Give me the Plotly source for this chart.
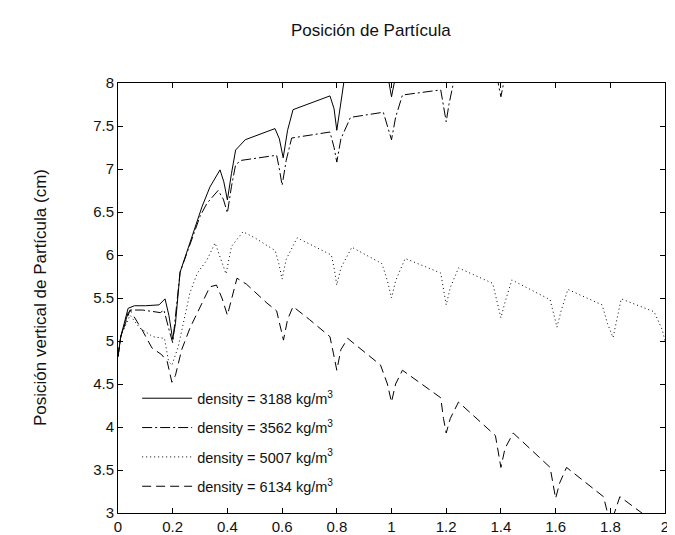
import plotly.graph_objects as go

# ---- data ----
t_3188 = [0.0, 0.01, 0.037, 0.06, 0.1, 0.15, 0.172, 0.186, 0.2, 0.21, 0.227, 0.25, 0.307, 0.336, 0.373,
          0.387, 0.40, 0.415, 0.43, 0.465, 0.574, 0.59, 0.604, 0.62, 0.64, 0.775, 0.79, 0.80, 0.815, 0.83,
          0.98, 0.99, 1.0, 1.01, 1.03, 1.18, 1.2, 1.22, 1.38, 1.4, 1.42, 2.0]
y_3188 = [4.82, 5.05, 5.38, 5.41, 5.41, 5.42, 5.49, 5.3, 5.02, 5.2, 5.8, 6.02, 6.56, 6.79, 6.99,
          6.85, 6.64, 6.95, 7.22, 7.34, 7.47, 7.35, 7.13, 7.45, 7.69, 7.85, 7.7, 7.45, 7.8, 8.1,
          8.2, 8.0, 7.84, 8.0, 8.3, 8.4, 8.1, 8.5, 8.6, 8.25, 8.65, 9.0]

t_3562 = [0.0, 0.01, 0.04, 0.09, 0.155, 0.168, 0.185, 0.2, 0.227, 0.26, 0.3, 0.325, 0.366, 0.385, 0.40,
          0.415, 0.43, 0.45, 0.58, 0.59, 0.60, 0.615, 0.635, 0.775, 0.79, 0.80, 0.815, 0.85, 0.97, 0.985,
          1.0, 1.015, 1.04, 1.18, 1.19, 1.2, 1.21, 1.225, 1.25, 1.38, 1.39, 1.4, 1.41, 1.44, 2.0]
y_3562 = [4.82, 5.05, 5.36, 5.36, 5.33, 5.36, 5.15, 4.98, 5.8, 6.1, 6.45, 6.6, 6.75, 6.65, 6.49,
          6.8, 7.05, 7.1, 7.16, 7.0, 6.81, 7.1, 7.36, 7.43, 7.25, 7.08, 7.35, 7.6, 7.66, 7.5,
          7.34, 7.6, 7.86, 7.92, 7.75, 7.55, 7.75, 7.98, 8.1, 8.17, 8.0, 7.84, 8.0, 8.25, 8.5]

t_5007 = [0.0, 0.01, 0.044, 0.08, 0.128, 0.17, 0.185, 0.197, 0.22, 0.263, 0.29, 0.325, 0.355, 0.375, 0.395,
          0.415, 0.457, 0.5, 0.575, 0.588, 0.6, 0.615, 0.655, 0.78, 0.79, 0.8, 0.815, 0.855, 0.965, 0.985,
          1.0, 1.015, 1.05, 1.18, 1.19, 1.2, 1.215, 1.245, 1.37, 1.385, 1.4, 1.415, 1.44, 1.58, 1.592,
          1.605, 1.62, 1.645, 1.77, 1.79, 1.81, 1.825, 1.84, 1.96, 1.99, 2.0]
y_5007 = [4.82, 5.05, 5.30, 5.15, 5.05, 5.03, 4.76, 4.72, 4.93, 5.56, 5.79, 5.94, 6.14, 5.95, 5.78,
          6.1, 6.27, 6.2, 6.05, 5.9, 5.72, 5.95, 6.2, 6.0, 5.85, 5.65, 5.85, 6.09, 5.9, 5.7,
          5.5, 5.7, 5.96, 5.79, 5.6, 5.42, 5.62, 5.85, 5.67, 5.45, 5.27, 5.45, 5.71, 5.48, 5.32,
          5.16, 5.35, 5.6, 5.42, 5.2, 5.04, 5.25, 5.49, 5.34, 5.13, 5.0]

t_6134 = [0.0, 0.01, 0.044, 0.088, 0.124, 0.16, 0.18, 0.19, 0.197, 0.21, 0.233, 0.263, 0.3, 0.336, 0.36,
          0.38, 0.40, 0.415, 0.435, 0.47, 0.545, 0.58, 0.59, 0.605, 0.62, 0.64, 0.7, 0.775, 0.788, 0.80,
          0.815, 0.84, 0.96, 0.985, 1.0, 1.015, 1.04, 1.18, 1.19, 1.2, 1.215, 1.245, 1.38, 1.39, 1.4,
          1.415, 1.445, 1.58, 1.59, 1.6, 1.615, 1.64, 1.775, 1.79, 1.80, 1.815, 1.835, 1.915, 2.0]
y_6134 = [4.82, 5.05, 5.36, 5.13, 4.92, 4.84, 4.76, 4.6, 4.52, 4.6, 4.9, 5.15, 5.40, 5.63, 5.65,
          5.5, 5.30, 5.5, 5.73, 5.66, 5.44, 5.35, 5.2, 5.01, 5.25, 5.40, 5.25, 5.05, 4.85, 4.66,
          4.9, 5.03, 4.72, 4.5, 4.29, 4.5, 4.66, 4.34, 4.1, 3.93, 4.1, 4.29, 3.9, 3.7, 3.53,
          3.75, 3.93, 3.53, 3.35, 3.17, 3.35, 3.53, 3.19, 3.0, 2.8, 3.0, 3.19, 3.0, 2.8]

series_names = ["density = 3188 kg/m<sup>3</sup>", "density = 3562 kg/m<sup>3</sup>",
                "density = 5007 kg/m<sup>3</sup>", "density = 6134 kg/m<sup>3</sup>"]
x_tick_vals = [0, 0.2, 0.4, 0.6, 0.8, 1.0, 1.2, 1.4, 1.6, 1.8, 2.0]
x_tick_text = ["0", "0.2", "0.4", "0.6", "0.8", "1", "1.2", "1.4", "1.6", "1.8", "2"]
y_tick_vals = [3, 3.5, 4, 4.5, 5, 5.5, 6, 6.5, 7, 7.5, 8]
y_tick_text = ["3", "3.5", "4", "4.5", "5", "5.5", "6", "6.5", "7", "7.5", "8"]

title_text = "Posición de Partícula"
ylabel_text = "Posición vertical de Partícula (cm)"

FONT = "Liberation Sans, Arial, Helvetica, sans-serif"

xs = [t_3188, t_3562, t_5007, t_6134]
ys = [y_3188, y_3562, y_5007, y_6134]
dashes = ["solid", "10px,3px,2px,3px", "1px,3px", "9px,5px"]

fig = go.Figure()
for i in range(4):
    fig.add_trace(go.Scatter(
        x=xs[i], y=ys[i], mode="lines", name=series_names[i],
        legendgroup=f"g{i}",
        line=dict(color="black", width=1, dash=dashes[i]),
    ))

# page body has an 8px margin, so the figure is 8px smaller than the window
W, H = 667, 527
L, R, T, B = 110, 10, 75, 22

fig.update_layout(
    width=W, height=H,
    margin=dict(l=L, r=R, t=T, b=B),
    paper_bgcolor="white", plot_bgcolor="white",
    font=dict(family=FONT, size=15, color="#111"),
    showlegend=True,
    legend=dict(
        x=0.035, y=0.304, xanchor="left", yanchor="top",
        bgcolor="rgba(255,255,255,0)", borderwidth=0,
        font=dict(family=FONT, size=14.5, color="#111"),
        tracegroupgap=7.5, itemwidth=50,
    ),
    xaxis=dict(
        range=[0, 2], tickvals=x_tick_vals, ticktext=x_tick_text,
        ticks="inside", ticklen=5, tickcolor="black", showgrid=False, zeroline=False,
        showline=True, linecolor="black", linewidth=1, mirror="ticks",
        automargin=False, tickfont=dict(size=15),
    ),
    yaxis=dict(
        range=[3, 8], tickvals=y_tick_vals, ticktext=y_tick_text,
        ticks="inside", ticklen=5, tickcolor="black", showgrid=False, zeroline=False,
        showline=True, linecolor="black", linewidth=1, mirror="ticks",
        automargin=False, tickfont=dict(size=15),
    ),
    annotations=[
        dict(text=title_text, xref="paper", yref="paper", x=0.5, xshift=-21, y=1.0, yshift=53,
             showarrow=False, xanchor="center", yanchor="middle",
             font=dict(family=FONT, size=17, color="#111")),
        dict(text=ylabel_text, xref="paper", yref="paper", x=0.0, xshift=-78, y=0.5,
             showarrow=False, xanchor="center", yanchor="middle", textangle=-90,
             font=dict(family=FONT, size=17, color="#111")),
    ],
)

fig.write_html("out.html")
